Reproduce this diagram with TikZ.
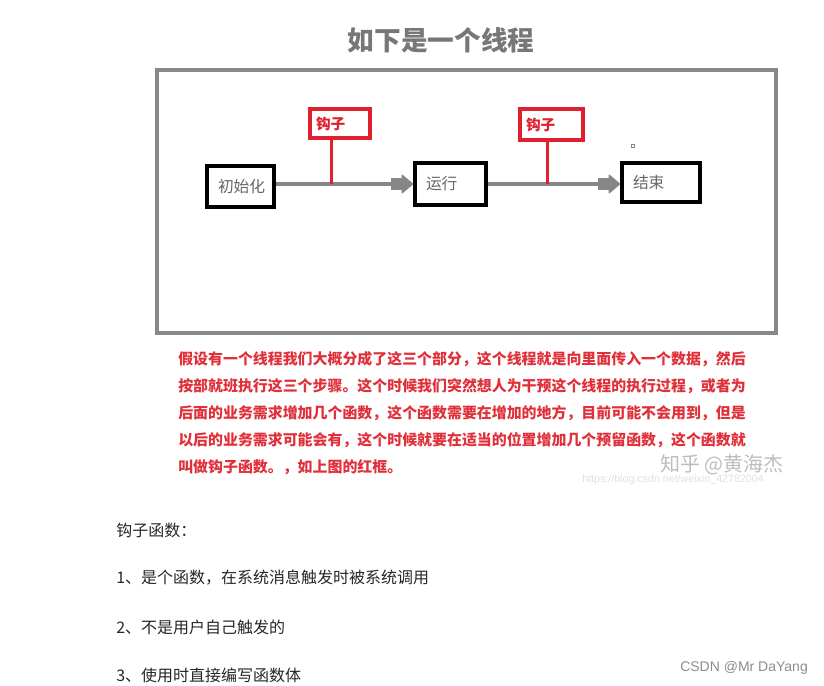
\documentclass[tikz,border=0pt]{standalone}
\usepackage{fontspec}
\setmainfont{Liberation Sans}
\newfontfamily\cjk{Noto Sans CJK SC}
\usetikzlibrary{arrows.meta}
\definecolor{titlegray}{HTML}{777777}
\definecolor{framegray}{HTML}{888888}
\definecolor{flowgray}{HTML}{868686}
\definecolor{stagegray}{HTML}{666666}
\definecolor{hookred}{HTML}{E0202E}
\definecolor{parared}{HTML}{E0303A}
\definecolor{markgray}{HTML}{BDBDBD}

\begin{document}
\begin{tikzpicture}[x=0.75pt,y=-0.75pt,
  stagebox/.style={rectangle,draw=black,line width=2.6pt,fill=white,text=stagegray,font=\cjk\fontsize{11.8}{13}\selectfont,inner xsep=8.25pt,inner ysep=0pt,align=left,text width=#1},
  hookbox/.style={rectangle,draw=hookred,line width=2.6pt,fill=white,text=hookred,font=\cjk\bfseries\fontsize{11}{13}\selectfont,inner xsep=4.5pt,inner ysep=0pt,align=left,text width=#1},
  flow/.style={draw=flowgray,line width=3.4pt,-{Rectangle[length=8pt,width=8.5pt,line width=0.8pt]Triangle[length=9pt,width=15pt,line width=0.8pt,round]}},
  hookline/.style={draw=hookred,line width=2.2pt},
  note/.style={anchor=west,inner sep=0pt,align=left,font=\cjk\fontsize{12}{14}\selectfont,text=black!85},
]
\useasboundingbox (0,0) rectangle (824,685);
\node[font=\cjk\bfseries\fontsize{20}{22}\selectfont,text=titlegray] (title) at (441,40) {如下是一个线程};
\draw[draw=framegray,line width=2.6pt] (157,70) rectangle (776,333);
% stages of the thread
\node[stagebox=33.75pt,minimum height=30.75pt] (init) at (240.5,186.5) {初始化};
\node[stagebox=36.75pt,minimum height=31.5pt] (run) at (450.5,184) {运行};
\node[stagebox=42pt,minimum height=29.25pt] (fin) at (661,182.5) {结束};
\draw[flow] (init.east |- run.west) -- (run.west);
\draw[flow] (run.east) -- (run.east -| fin.west);
% hooks
\node[hookbox=36pt,minimum height=21.75pt] (hook1) at (340,123.5) {钩子};
\node[hookbox=38.25pt,minimum height=23.25pt] (hook2) at (551.5,124.5) {钩子};
\coordinate (h1) at (331.5,184);
\coordinate (h2) at (547.5,184);
\draw[hookline] (h1 |- hook1.south) -- (h1);
\draw[hookline] (h2 |- hook2.south) -- (h2);
\node[draw=framegray,line width=0.5pt,inner sep=0pt,minimum size=2.5pt] (dot) at (633,146) {};
% explanation
\node[anchor=west,inner sep=0pt,align=left,font=\cjk\bfseries\fontsize{11.2}{20.25}\selectfont,text=parared] (para) at (178,413) {假设有一个线程我们大概分成了这三个部分，这个线程就是向里面传入一个数据，然后\\按部就班执行这三个步骤。这个时候我们突然想人为干预这个线程的执行过程，或者为\\后面的业务需求增加几个函数，这个函数需要在增加的地方，目前可能不会用到，但是\\以后的业务需求可能会有，这个时候就要在适当的位置增加几个预留函数，这个函数就\\叫做钩子函数。，如上图的红框。};
\node[anchor=west,inner sep=0pt,font=\cjk\fontsize{15}{17}\selectfont,text=markgray] (zhihu) at (660,465) {知乎 @黄海杰};
\node[anchor=west,inner sep=0pt,font=\fontsize{8}{9}\selectfont,text=black!12] (url) at (582,480) {https://blog.csdn.net/weixin\_42782004};
% hook function notes
\node[note] (n0) at (116,530) {钩子函数：};
\node[note] (n1) at (116,578) {1、是个函数，在系统消息触发时被系统调用};
\node[note] (n2) at (116,627) {2、不是用户自己触发的};
\node[note] (n3) at (116,675) {3、使用时直接编写函数体};
\node[anchor=west,inner sep=0pt,font=\fontsize{10.5}{12}\selectfont,text=black!45] (csdn) at (680,668) {CSDN @Mr DaYang};
\end{tikzpicture}
\end{document}
